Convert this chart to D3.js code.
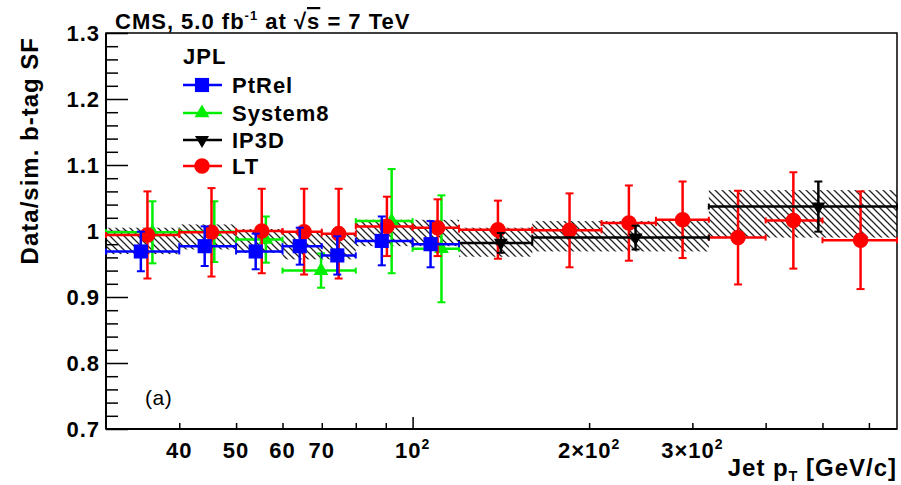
<!DOCTYPE html>
<html lang="en">
<head>
  <meta charset="UTF-8">
  <title>JPL b-tag scale factors</title>
  <script src="https://d3js.org/d3.v7.min.js"></script>
  <style>
    body { margin: 0; background: #fff; }
    text { font-family: "Liberation Sans", Arial, sans-serif; }
    .bold { font-weight: bold; font-size: 22px; letter-spacing: 1px; fill: #000; }
    .atitle { font-weight: bold; font-size: 24px; letter-spacing: 1px; fill: #000; }
    .axis path, .axis line { stroke: #000; }
    .axis path { stroke-width: 2px; }
    .axis line { stroke-width: 1.5px; }
  </style>
</head>
<body>
  <div id="chart"></div>
  <script>
    // pT binning and axis labels
    const xDomain = [30, 670];
    const yDomain = [0.7, 1.3];
    const yMajor = [0.7, 0.8, 0.9, 1.0, 1.1, 1.2, 1.3];
    const yLabels = ["0.7", "0.8", "0.9", "1", "1.1", "1.2", "1.3"];
    const xMinorTicks = [40, 50, 60, 70, 80, 90, 200, 300, 400, 500, 600];
    const xMajorTicks = [100];
    const xLabelTicks = [40, 50, 60, 70, 100, 200, 300];
    const xLabelBase = ["40", "50", "60", "70", "10", "2\u00d710", "3\u00d710"];
    const xLabelExp = ["", "", "", "", "2", "2", "2"];

    // combined SF uncertainty band (hatched)
    const bandLow = [30, 40, 50, 60, 80, 120, 160, 320];
    const bandHigh = [40, 50, 60, 80, 120, 160, 320, 670];
    const bandSF = [0.985, 0.991, 0.985, 0.977, 0.997, 0.983, 0.992, 1.026];
    const bandErr = [0.020, 0.019, 0.018, 0.020, 0.020, 0.022, 0.023, 0.036];

    // PtRel
    const ptrelLow = [30, 40, 50, 60, 70, 80, 100];
    const ptrelHigh = [40, 50, 60, 70, 80, 100, 120];
    const ptrelPt = [34.4, 44.2, 54.0, 64.2, 74.4, 88.6, 107.3];
    const ptrelSF = [0.969, 0.977, 0.969, 0.977, 0.963, 0.985, 0.980];
    const ptrelErr = [0.030, 0.030, 0.027, 0.028, 0.029, 0.037, 0.035];

    // System8
    const s8Low = [30, 40, 50, 60, 80, 100];
    const s8High = [40, 50, 60, 80, 100, 120];
    const s8Pt = [36.0, 45.9, 56.2, 69.8, 92.1, 112.0];
    const s8SF = [0.998, 0.999, 0.987, 0.940, 1.015, 0.973];
    const s8Err = [0.047, 0.046, 0.035, 0.026, 0.079, 0.081];

    // IP3D
    const ip3dLow = [120, 160, 320];
    const ip3dHigh = [160, 320, 670];
    const ip3dPt = [141.4, 240, 492];
    const ip3dSF = [0.982, 0.990, 1.037];
    const ip3dErr = [0.015, 0.018, 0.038];

    // LT
    const ltLow = [30, 40, 50, 60, 70, 80, 100, 120, 160, 210, 260, 320, 400, 500];
    const ltHigh = [40, 50, 60, 70, 80, 100, 120, 160, 210, 260, 320, 400, 500, 670];
    const ltPt = [35.3, 45.4, 55.3, 65.3, 74.8, 90.4, 110.3, 139.8, 185.2, 233.8, 288.7, 358.9, 446, 580.7];
    const ltSF = [0.994, 0.998, 1.000, 0.999, 0.996, 1.007, 1.005, 1.002, 1.001, 1.012, 1.017, 0.990, 1.016, 0.986];
    const ltErr = [0.066, 0.067, 0.064, 0.065, 0.068, 0.045, 0.043, 0.044, 0.056, 0.057, 0.058, 0.071, 0.073, 0.074];

    const legendNames = ["PtRel", "System8", "IP3D", "LT"];

    const W = 901, H = 485;
    const pLeft = 106, pRight = 897, pTop = 33, pBottom = 429;

    const svg = d3.select("#chart").append("svg")
      .attr("width", W).attr("height", H);

    const x = d3.scaleLog().domain(xDomain).range([pLeft, pRight]);
    const y = d3.scaleLinear().domain(yDomain).range([pBottom, pTop]);

    // hatch pattern
    const defs = svg.append("defs");
    defs.append("pattern")
      .attr("id", "hatch")
      .attr("patternUnits", "userSpaceOnUse")
      .attr("width", 7).attr("height", 7)
      .append("path")
      .attr("d", "M-1,-1 L8,8 M-1,6 L1,8 M6,-1 L8,1")
      .attr("stroke", "#222")
      .attr("stroke-width", 1.3);

    // band
    svg.append("g").selectAll("rect")
      .data(d3.range(bandLow.length))
      .join("rect")
      .attr("x", i => x(bandLow[i]))
      .attr("width", i => x(bandHigh[i]) - x(bandLow[i]))
      .attr("y", i => y(bandSF[i] + bandErr[i]))
      .attr("height", i => y(bandSF[i] - bandErr[i]) - y(bandSF[i] + bandErr[i]))
      .attr("fill", "url(#hatch)");

    // frame
    svg.append("rect")
      .attr("x", pLeft).attr("y", pTop)
      .attr("width", pRight - pLeft).attr("height", pBottom - pTop)
      .attr("fill", "none").attr("stroke", "#000").attr("stroke-width", 1.5);

    // y axis
    const yMinor = d3.range(0.72, 1.3, 0.02).filter(v => Math.abs(Math.round(v * 10) - v * 10) > 0.01);
    svg.append("g")
      .attr("class", "axis")
      .attr("transform", `translate(${pLeft},0)`)
      .call(d3.axisLeft(y).tickValues(yMinor).tickSize(-12).tickFormat(""))
      .call(g => g.select(".domain").remove());
    const yAxis = svg.append("g")
      .attr("class", "axis")
      .attr("transform", `translate(${pLeft},0)`)
      .call(d3.axisLeft(y).tickValues(yMajor).tickSize(-22).tickPadding(6)
        .tickFormat((d, i) => yLabels[i]));
    yAxis.select(".domain").attr("d", `M0,${pTop}V${pBottom}`);
    yAxis.selectAll("text").attr("class", "bold")
      .attr("dy", "0.36em");
    yAxis.attr("font-size", null).attr("font-family", null);

    // x axis
    svg.append("g")
      .attr("class", "axis")
      .attr("transform", `translate(0,${pBottom})`)
      .call(d3.axisBottom(x).tickValues(xMinorTicks).tickSize(-6).tickFormat(""))
      .call(g => g.select(".domain").remove());
    const xAxis = svg.append("g")
      .attr("class", "axis")
      .attr("transform", `translate(0,${pBottom})`)
      .call(d3.axisBottom(x).tickValues(xMajorTicks).tickSize(-12).tickFormat(""));
    xAxis.select(".domain").attr("d", `M${pLeft},0H${pRight}`);

    const xl = svg.append("g").selectAll("text")
      .data(xLabelTicks)
      .join("text")
      .attr("class", "bold")
      .attr("x", d => x(d))
      .attr("y", 458)
      .attr("text-anchor", "middle");
    xl.append("tspan").text((d, i) => xLabelBase[i]);
    xl.append("tspan").attr("dy", -9).attr("font-size", 14).text((d, i) => xLabelExp[i]);

    // series drawing
    function drawSeries(lows, highs, pts, sfs, errs, color, sym, size, rot) {
      const g = svg.append("g");
      const idx = d3.range(sfs.length);
      g.selectAll(".h").data(idx).join("line")
        .attr("x1", i => x(lows[i])).attr("x2", i => x(highs[i]))
        .attr("y1", i => y(sfs[i])).attr("y2", i => y(sfs[i]))
        .attr("stroke", color).attr("stroke-width", 2.5);
      g.selectAll(".hc").data(idx.flatMap(i => [[lows[i], sfs[i]], [highs[i], sfs[i]]])).join("line")
        .attr("x1", d => x(d[0])).attr("x2", d => x(d[0]))
        .attr("y1", d => y(d[1]) - 3).attr("y2", d => y(d[1]) + 3)
        .attr("stroke", color).attr("stroke-width", 2);
      g.selectAll(".v").data(idx).join("line")
        .attr("x1", i => x(pts[i])).attr("x2", i => x(pts[i]))
        .attr("y1", i => y(sfs[i] - errs[i])).attr("y2", i => y(sfs[i] + errs[i]))
        .attr("stroke", color).attr("stroke-width", 2.5);
      g.selectAll(".vc").data(idx.flatMap(i => [[pts[i], sfs[i] - errs[i]], [pts[i], sfs[i] + errs[i]]])).join("line")
        .attr("x1", d => x(d[0]) - 4).attr("x2", d => x(d[0]) + 4)
        .attr("y1", d => y(d[1])).attr("y2", d => y(d[1]))
        .attr("stroke", color).attr("stroke-width", 2);
      g.selectAll("path").data(idx).join("path")
        .attr("d", d3.symbol().type(sym).size(size))
        .attr("transform", i => `translate(${x(pts[i])},${y(sfs[i])}) rotate(${rot})`)
        .attr("fill", color);
    }

    drawSeries(s8Low, s8High, s8Pt, s8SF, s8Err, "#00ee00", d3.symbolTriangle, 95, 0);
    drawSeries(ltLow, ltHigh, ltPt, ltSF, ltErr, "#ff0000", d3.symbolCircle, 190, 0);
    drawSeries(ip3dLow, ip3dHigh, ip3dPt, ip3dSF, ip3dErr, "#000000", d3.symbolTriangle, 85, 180);
    drawSeries(ptrelLow, ptrelHigh, ptrelPt, ptrelSF, ptrelErr, "#0000ff", d3.symbolSquare, 200, 0);

    // legend
    const legendColors = ["#0000ff", "#00ee00", "#000000", "#ff0000"];
    const legendSyms = [d3.symbolSquare, d3.symbolTriangle, d3.symbolTriangle, d3.symbolCircle];
    const legendSizes = [200, 95, 85, 190];
    const legendRot = [0, 0, 180, 0];
    const legendY = [85, 113, 140, 166];

    svg.append("text").attr("class", "bold").attr("x", 183).attr("y", 64).text("JPL");
    const lg = svg.append("g").selectAll("g").data(legendNames).join("g")
      .attr("transform", (d, i) => `translate(0,${legendY[i]})`);
    lg.append("line").attr("x1", 183).attr("x2", 222)
      .attr("stroke", (d, i) => legendColors[i]).attr("stroke-width", 2.5);
    lg.append("path")
      .attr("d", (d, i) => d3.symbol().type(legendSyms[i]).size(legendSizes[i])())
      .attr("transform", (d, i) => `translate(202,0) rotate(${legendRot[i]})`)
      .attr("fill", (d, i) => legendColors[i]);
    lg.append("text").attr("class", "bold").attr("x", 232).attr("y", 8).text(d => d);

    // title
    const t = svg.append("text").attr("class", "bold").attr("x", 115).attr("y", 29);
    t.append("tspan").text("CMS, 5.0 fb");
    t.append("tspan").attr("dy", -9).attr("font-size", 13).text("-1");
    t.append("tspan").attr("dy", 9).text(" at \u221a");
    t.append("tspan").style("text-decoration", "overline").text("s");
    t.append("tspan").text(" = 7 TeV");

    // axis titles
    const xt = svg.append("text").attr("class", "atitle").attr("x", pRight).attr("y", 476)
      .attr("text-anchor", "end");
    xt.append("tspan").text("Jet p");
    xt.append("tspan").attr("dy", 5).attr("font-size", 14).text("T");
    xt.append("tspan").attr("dy", -5).text(" [GeV/c]");

    svg.append("text").attr("class", "atitle")
      .attr("transform", "translate(38,37) rotate(-90)")
      .attr("text-anchor", "end")
      .text("Data/sim. b-tag SF");

    svg.append("text")
      .attr("x", 145).attr("y", 405)
      .attr("font-size", 21).attr("letter-spacing", 0.5)
      .text("(a)");
  </script>
</body>
</html>
